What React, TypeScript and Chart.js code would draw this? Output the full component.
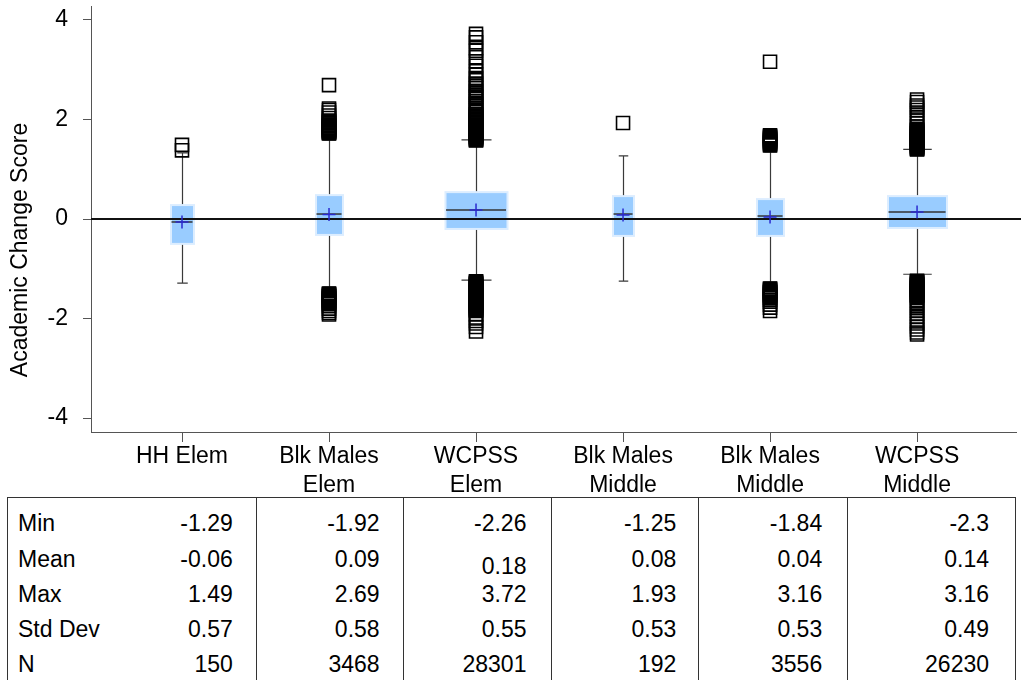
import React, { useEffect, useRef } from "react";
import { Chart, registerables } from "chart.js";

Chart.register(...registerables);

// ---------- data ----------
const categories: string[][] = [
  ["HH Elem"],
  ["Blk Males", "Elem"],
  ["WCPSS", "Elem"],
  ["Blk Males", "Middle"],
  ["Blk Males", "Middle"],
  ["WCPSS", "Middle"],
];
const q1Values = [-0.48, -0.3, -0.18, -0.32, -0.32, -0.16];
const medianValues = [-0.06, 0.1, 0.18, 0.1, 0.06, 0.14];
const q3Values = [0.26, 0.46, 0.52, 0.44, 0.38, 0.44];
const whiskerLowValues = [-1.29, -1.37, -1.23, -1.25, -1.27, -1.11];
const whiskerHighValues = [1.33, 1.59, 1.59, 1.27, 1.35, 1.4];
const meanValues = [-0.06, 0.09, 0.18, 0.08, 0.04, 0.14];

const outliersHHElem = [1.49, 1.38];
const outliersBlkElem = [
  2.69, 2.22, 2.19, 2.14, 2.08, 2.03, 1.98, 1.96, 1.95, 1.93, 1.92, 1.9, 1.89, 1.87, 1.86, 1.84,
  1.83, 1.81, 1.8, 1.79, 1.78, 1.77, 1.76, 1.75, 1.74, 1.73, 1.72,
  -1.5, -1.51, -1.52, -1.54, -1.55, -1.56, -1.58, -1.59, -1.61, -1.62, -1.64, -1.65, -1.67, -1.69,
  -1.71, -1.75, -1.8, -1.85, -1.89, -1.92,
];
const outliersWcpssElem = [
  3.72, 3.65, 3.55, 3.43, 3.38, 3.25, 3.17, 3.08, 2.97, 2.9, 2.83, 2.79, 2.72, 2.68, 2.63, 2.57, 2.54,
  2.5, 2.46, 2.43, 2.37, 2.33, 2.3, 2.27, 2.22, 2.18, 2.15, 2.11, 2.1, 2.08, 2.07, 2.05, 2.04, 2.02,
  2.01, 1.99, 1.98, 1.96, 1.95, 1.93, 1.92, 1.9, 1.89, 1.87, 1.86, 1.84, 1.83, 1.81, 1.8, 1.78,
  1.77, 1.75, 1.74, 1.72, 1.71, 1.69, 1.68, 1.66, 1.65, 1.63, 1.62, 1.6, 1.59, 1.58,
  -1.25, -1.26, -1.28, -1.29, -1.31, -1.32, -1.34, -1.35, -1.37, -1.38, -1.4, -1.41, -1.43, -1.44,
  -1.46, -1.47, -1.49, -1.5, -1.52, -1.53, -1.55, -1.56, -1.58, -1.59, -1.61, -1.62, -1.64, -1.65,
  -1.67, -1.68, -1.7, -1.71, -1.73, -1.74, -1.76, -1.77, -1.79, -1.8, -1.82, -1.83, -1.85,
  -1.92, -1.98, -2.05, -2.1, -2.17, -2.26,
];
const outliersBlkMiddleA = [1.93];
const outliersBlkMiddleB = [
  3.16, 1.68, 1.66, 1.64, 1.62, 1.6, 1.58, 1.56, 1.54, 1.52, 1.5, 1.48,
  -1.4, -1.41, -1.43, -1.45, -1.47, -1.48, -1.5, -1.52, -1.54, -1.56, -1.58, -1.62, -1.66, -1.72,
  -1.78, -1.85,
];
const outliersWcpssMiddle = [
  2.4, 2.35, 2.28, 2.24, 2.19, 2.12, 2.05, 1.98, 1.92, 1.86, 1.81, 1.79, 1.78, 1.76, 1.75, 1.73,
  1.72, 1.7, 1.69, 1.67, 1.66, 1.64, 1.63, 1.61, 1.6, 1.58, 1.57, 1.55, 1.54, 1.52, 1.51, 1.49,
  1.48, 1.46, 1.45, 1.43, 1.42, 1.41, 1.4,
  -1.24, -1.25, -1.27, -1.28, -1.3, -1.31, -1.33, -1.34, -1.36, -1.37, -1.39, -1.4, -1.42, -1.43,
  -1.45, -1.46, -1.48, -1.49, -1.51, -1.52, -1.54, -1.55, -1.57, -1.63, -1.68, -1.74, -1.79, -1.85,
  -1.91, -1.97, -2.04, -2.1, -2.16, -2.22, -2.28, -2.32,
];
const outlierGroups = [
  outliersHHElem,
  outliersBlkElem,
  outliersWcpssElem,
  outliersBlkMiddleA,
  outliersBlkMiddleB,
  outliersWcpssMiddle,
];

const yTickValues = [-4, -2, 0, 2, 4];
const yAxisTitle = "Academic Change Score";

const statLabels = ["Min", "Mean", "Max", "Std Dev", "N"];
const statMin = ["-1.29", "-1.92", "-2.26", "-1.25", "-1.84", "-2.3"];
const statMean = ["-0.06", "0.09", "0.18", "0.08", "0.04", "0.14"];
const statMax = ["1.49", "2.69", "3.72", "1.93", "3.16", "3.16"];
const statStd = ["0.57", "0.58", "0.55", "0.53", "0.53", "0.49"];
const statN = ["150", "3468", "28301", "192", "3556", "26230"];

// ---------- styles ----------
const FONT = "'Liberation Sans', Arial, Helvetica, sans-serif";
const FONT_SIZE = 23;
const boxWidthsPx = [21, 25, 60, 19, 25, 57];
const columnWidthsPx = [249, 147, 149, 147, 149, 168];
const columnPadRight = [23, 23, 25, 22, 25, 26];

const boxPlugin = {
  id: "boxPlot",
  beforeDatasetsDraw(chart: any) {
    const { ctx, chartArea } = chart;
    const x = chart.scales.x;
    const y = chart.scales.y;
    ctx.save();
    categories.forEach((_, i) => {
      const cx = Math.round(x.getPixelForValue(i)) + 0.5;
      const w = boxWidthsPx[i];
      const top = y.getPixelForValue(q3Values[i]);
      const bot = y.getPixelForValue(q1Values[i]);
      const wh = y.getPixelForValue(whiskerHighValues[i]);
      const wl = y.getPixelForValue(whiskerLowValues[i]);
      ctx.strokeStyle = "#3a3a3a";
      ctx.lineWidth = 1.2;
      ctx.beginPath();
      ctx.moveTo(cx, wh);
      ctx.lineTo(cx, top);
      ctx.moveTo(cx, bot);
      ctx.lineTo(cx, wl);
      ctx.moveTo(cx - w / 4, wh);
      ctx.lineTo(cx + w / 4, wh);
      ctx.moveTo(cx - w / 4, wl);
      ctx.lineTo(cx + w / 4, wl);
      ctx.stroke();
      ctx.fillStyle = "#dcedff";
      ctx.fillRect(cx - w / 2 - 2, top - 2, w + 4, bot - top + 4);
      ctx.fillStyle = "#99ccff";
      ctx.fillRect(cx - w / 2, top, w, bot - top);
    });
    const zy = y.getPixelForValue(0);
    ctx.strokeStyle = "#111";
    ctx.lineWidth = 2;
    ctx.beginPath();
    ctx.moveTo(chartArea.left, zy);
    ctx.lineTo(chart.width, zy);
    ctx.stroke();
    categories.forEach((_, i) => {
      const cx = x.getPixelForValue(i);
      const w = boxWidthsPx[i];
      const my = y.getPixelForValue(medianValues[i]);
      ctx.strokeStyle = "#333";
      ctx.lineWidth = 1.5;
      ctx.beginPath();
      ctx.moveTo(cx - w / 2, my);
      ctx.lineTo(cx + w / 2, my);
      ctx.stroke();
    });
    ctx.restore();
  },
  afterDraw(chart: any) {
    const { ctx } = chart;
    ctx.save();
    ctx.translate(21, 250);
    ctx.rotate(-Math.PI / 2);
    ctx.font = `${FONT_SIZE}px ${FONT}`;
    ctx.fillStyle = "#000";
    ctx.textAlign = "center";
    ctx.textBaseline = "middle";
    ctx.fillText(yAxisTitle, 0, 0);
    ctx.restore();
  },
};

function ChartCanvas() {
  const ref = useRef<HTMLCanvasElement | null>(null);
  useEffect(() => {
    if (!ref.current) return;
    const outlierPoints: { x: number; y: number }[] = [];
    outlierGroups.forEach((g, i) => g.forEach((v) => outlierPoints.push({ x: i, y: v })));
    const meanPoints = meanValues.map((v, i) => ({ x: i, y: v }));
    const chart = new Chart(ref.current, {
      type: "scatter",
      data: {
        datasets: [
          {
            label: "Mean",
            data: meanPoints,
            pointStyle: "cross",
            radius: 6.5,
            borderColor: "#2a2ad0",
            borderWidth: 1.5,
            backgroundColor: "#2a2ad0",
          },
          {
            label: "Outliers",
            data: outlierPoints,
            pointStyle: "rect",
            radius: 9.2,
            borderColor: "#000",
            borderWidth: 1.6,
            backgroundColor: "rgba(0,0,0,0)",
          },
        ],
      },
      options: {
        responsive: false,
        animation: false,
        devicePixelRatio: 1,
        layout: { autoPadding: false, padding: { left: 0, top: 6, right: 5, bottom: 0 } },
        plugins: { legend: { display: false }, tooltip: { enabled: false } },
        scales: {
          x: {
            type: "linear",
            min: -0.619,
            max: 5.673,
            afterBuildTicks: (scale: any) => {
              scale.ticks = categories.map((_, i) => ({ value: i }));
            },
            afterFit: (scale: any) => {
              scale.height = 65;
              scale.paddingLeft = 0;
              scale.paddingRight = 0;
            },
            grid: { drawOnChartArea: false, drawTicks: true, tickLength: 10, color: "#555" },
            border: { display: true, color: "#555", width: 1 },
            ticks: {
              autoSkip: false,
              maxRotation: 0,
              padding: 0,
              color: "#000",
              font: { family: FONT, size: FONT_SIZE, lineHeight: 1.26 },
              callback: (v: any) => categories[Math.round(Number(v))] as any,
            },
          },
          y: {
            type: "linear",
            min: -4.28,
            max: 4.28,
            afterBuildTicks: (scale: any) => {
              scale.ticks = yTickValues.map((v) => ({ value: v }));
            },
            afterFit: (scale: any) => {
              scale.width = 91;
              scale.paddingTop = 0;
              scale.paddingBottom = 0;
            },
            grid: { drawOnChartArea: false, drawTicks: true, tickLength: 8, color: "#555" },
            border: { display: true, color: "#555", width: 1 },
            ticks: {
              padding: 15,
              color: "#000",
              font: { family: FONT, size: FONT_SIZE },
              callback: (v: any) => String(v),
            },
          },
        },
      },
      plugins: [boxPlugin],
    } as any);
    return () => chart.destroy();
  }, []);
  return <canvas ref={ref} width={1021} height={497} style={{ display: "block", width: 1021, height: 497 }} />;
}

function StatsTable() {
  const rows = [statMin, statMean, statMax, statStd, statN];
  return (
    <div
      style={{
        position: "absolute",
        left: 7,
        top: 497,
        width: 1009,
        height: 220,
        border: "1px solid #333",
        boxSizing: "border-box",
        display: "flex",
        fontFamily: FONT,
        fontSize: FONT_SIZE,
        color: "#000",
      }}
    >
      {columnWidthsPx.map((cw, c) => (
        <div
          key={c}
          style={{
            width: cw - (c === 0 ? 1 : 0),
            borderLeft: c === 0 ? "none" : "1px solid #333",
            boxSizing: "border-box",
            paddingTop: 8,
            position: "relative",
          }}
        >
          {rows.map((r, ri) => (
            <div
              key={ri}
              style={{
                height: 35.3,
                lineHeight: "35.3px",
                textAlign: "right",
                paddingRight: columnPadRight[c],
                position: "relative",
                top: (c === 2 && ri === 1 ? 7 : 0) + (ri === 1 ? 1 : 0),
                whiteSpace: "nowrap",
              }}
            >
              {c === 0 && (
                <span style={{ position: "absolute", left: 10 }}>{statLabels[ri]}</span>
              )}
              {r[c]}
            </div>
          ))}
        </div>
      ))}
    </div>
  );
}

export default function App() {
  return (
    <div
      style={{
        position: "fixed",
        left: 0,
        top: 0,
        width: 1021,
        height: 680,
        overflow: "hidden",
        background: "#fff",
      }}
    >
      <ChartCanvas />
      <StatsTable />
    </div>
  );
}
